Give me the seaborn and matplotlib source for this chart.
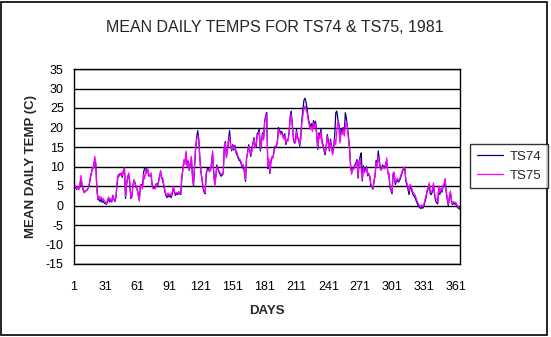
import matplotlib
matplotlib.use("Agg")
import matplotlib.pyplot as plt
import pandas as pd
import seaborn as sns
from matplotlib.patches import Rectangle

days = list(range(1, 366))

ts74 = [
    4.8, 4.4, 4.8, 4.1, 4.6, 4.2, 5.0, 7.0, 5.2, 4.2,
    3.5, 3.6, 3.9, 4.0, 4.6, 5.5, 7.2, 8.5, 9.6, 9.8,
    12.0, 10.5, 4.5, 1.5, 1.5, 1.0, 1.8, 0.8, 1.2, 0.6,
    0.5, 0.3, 1.0, 1.8, 0.9, 1.5, 0.9, 2.6, 1.7, 1.0,
    2.2, 5.5, 7.5, 7.8, 8.2, 8.0, 7.2, 9.0, 9.5, 1.8,
    5.2, 7.4, 8.0, 5.5, 1.8, 2.3, 5.3, 6.4, 5.8, 4.6,
    4.2, 2.8, 1.5, 5.0, 5.4, 4.8, 8.4, 9.7, 9.7, 8.6,
    9.0, 7.5, 7.8, 8.0, 5.4, 4.6, 4.8, 4.6, 5.6, 4.8,
    6.2, 7.5, 8.6, 7.0, 6.6, 5.0, 3.6, 2.6, 2.0, 2.7,
    2.2, 2.6, 2.0, 3.0, 4.6, 3.4, 2.6, 3.1, 2.8, 3.2,
    3.0, 2.8, 7.0, 9.4, 11.4, 11.0, 13.5, 10.4, 11.4, 9.0,
    10.6, 12.2, 7.8, 5.0, 9.6, 14.5, 17.4, 19.2, 17.0, 12.2,
    8.6, 6.5, 4.6, 3.4, 3.0, 8.0, 9.4, 9.6, 9.0, 9.0,
    10.6, 13.5, 8.6, 5.4, 7.5, 10.4, 9.6, 8.6, 8.0, 7.5,
    7.8, 8.4, 14.8, 16.4, 12.6, 14.5, 17.0, 19.2, 15.5, 14.0,
    15.6, 14.2, 15.4, 13.6, 13.0, 12.2, 11.6, 11.4, 10.6, 9.6,
    10.0, 8.4, 6.2, 12.0, 13.8, 15.6, 14.0, 12.6, 14.4, 16.0,
    17.4, 15.2, 15.0, 18.4, 18.8, 19.5, 14.0, 16.4, 18.6, 17.2,
    21.6, 23.0, 23.8, 9.5, 11.2, 8.2, 11.4, 12.2, 12.6, 14.4,
    15.2, 15.0, 16.4, 20.0, 19.4, 18.6, 19.0, 18.2, 17.4, 18.4,
    15.6, 16.6, 16.8, 18.6, 22.6, 24.2, 21.0, 17.4, 16.0, 16.4,
    19.5, 17.4, 17.0, 15.2, 17.4, 21.8, 24.5, 27.0, 27.5, 26.5,
    24.8, 22.6, 21.2, 20.0, 21.0, 19.6, 21.8, 20.6, 21.6, 18.6,
    14.4, 18.6, 17.6, 19.6, 16.6, 15.6, 14.0, 13.0, 15.2, 18.2,
    16.6, 14.0, 17.0, 15.4, 13.4, 15.0, 18.0, 23.8, 24.2, 22.0,
    20.8, 16.6, 19.6, 18.8, 20.0, 18.4, 23.8, 22.4, 20.0, 17.6,
    14.8, 10.2, 8.4, 9.8, 9.6, 10.4, 11.0, 11.8, 7.0, 11.4,
    12.6, 13.5, 6.3, 10.2, 8.8, 9.4, 10.0, 7.6, 8.0, 7.6,
    5.2, 4.8, 4.2, 6.4, 7.8, 11.6, 10.4, 14.0, 11.6, 9.6,
    9.4, 10.4, 10.0, 9.8, 10.6, 11.6, 8.4, 8.0, 4.6, 3.8,
    3.0, 8.0, 8.2, 5.4, 6.0, 6.6, 6.0, 6.4, 7.0, 8.0,
    8.8, 9.4, 9.5, 6.2, 5.4, 4.2, 2.8, 4.8, 4.4, 3.4,
    2.6, 2.4, 1.8, 1.0, 0.4, -0.3, -0.5, -0.8, -0.4, -0.7,
    -0.2, 1.0, 2.0, 3.6, 4.2, 5.4, 3.0, 2.8, 3.6, 5.4,
    2.8, 1.2, 0.7, 0.4, 4.6, 2.8, 4.0, 3.4, 4.8, 5.2,
    6.7, 3.4, 1.6, 0.0, 2.0, 3.3, 1.0, 0.2, 0.6, 0.4,
    0.4, -0.2, -0.6, -0.8, -1.0,
]

ts75 = [
    5.0, 4.2, 5.0, 4.3, 4.8, 4.0, 5.4, 7.7, 5.5, 4.0,
    3.2, 3.5, 3.8, 4.2, 4.5, 5.8, 7.5, 8.8, 10.0, 9.5,
    12.6, 11.0, 4.0, 1.7, 2.4, 1.6, 2.2, 1.4, 1.8, 1.2,
    0.9, 0.4, 1.5, 2.2, 1.3, 1.8, 1.1, 2.4, 1.5, 1.2,
    2.0, 5.8, 8.0, 7.5, 7.8, 8.4, 7.6, 8.6, 9.7, 2.4,
    5.8, 7.0, 8.4, 6.0, 2.2, 2.5, 5.0, 6.7, 5.5, 5.0,
    4.0, 2.5, 1.1, 5.4, 5.0, 4.2, 8.0, 6.8, 9.0, 8.2,
    9.5, 7.8, 7.5, 8.4, 5.0, 4.2, 4.5, 4.2, 5.4, 5.0,
    6.0, 7.0, 9.0, 7.2, 7.0, 5.4, 4.0, 3.0, 2.4, 3.2,
    2.6, 3.0, 2.4, 3.5, 5.0, 3.7, 3.0, 3.4, 3.1, 3.6,
    3.3, 3.0, 7.5, 9.0, 11.8, 10.5, 14.0, 10.0, 11.0, 9.2,
    11.0, 12.6, 7.5, 5.4, 10.0, 15.0, 17.0, 18.0, 16.5, 11.8,
    9.0, 7.0, 5.0, 4.0, 3.2, 8.4, 9.0, 9.2, 8.6, 9.2,
    11.0, 14.0, 9.0, 5.0, 7.0, 10.0, 9.2, 9.0, 8.4, 8.0,
    8.2, 8.0, 15.2, 16.0, 12.2, 14.0, 16.5, 17.8, 15.0, 14.4,
    15.2, 14.5, 15.0, 14.0, 13.5, 12.6, 12.0, 11.8, 11.0, 10.0,
    10.5, 9.0, 6.7, 12.6, 13.5, 15.2, 14.4, 13.0, 14.0, 15.6,
    17.0, 14.8, 15.5, 17.8, 18.2, 19.0, 14.4, 16.0, 18.2, 16.8,
    21.2, 22.5, 23.3, 10.0, 12.0, 8.4, 11.8, 12.6, 12.2, 14.0,
    14.8, 15.5, 16.0, 19.5, 19.0, 18.2, 18.6, 17.8, 17.0, 18.0,
    16.0, 17.0, 16.5, 18.2, 22.0, 23.3, 20.5, 17.8, 16.5, 16.0,
    19.0, 17.0, 17.5, 15.6, 17.0, 21.2, 23.0, 25.0, 25.5, 24.5,
    23.8, 22.0, 20.8, 19.5, 20.3, 19.0, 21.2, 20.0, 21.0, 18.0,
    14.8, 18.2, 17.0, 19.0, 16.0, 15.2, 14.4, 13.5, 14.8, 17.8,
    16.0, 14.4, 16.5, 14.8, 13.0, 14.4, 17.0, 15.6, 19.5, 21.6,
    20.3, 16.0, 19.0, 18.2, 19.5, 17.8, 20.3, 21.6, 19.5, 17.0,
    14.4, 9.7, 8.0, 9.5, 9.2, 10.0, 10.5, 11.4, 7.5, 11.0,
    12.0, 9.0, 6.7, 9.7, 8.4, 9.0, 9.7, 8.0, 8.4, 7.2,
    5.6, 5.0, 4.5, 6.0, 7.5, 11.0, 10.0, 12.6, 11.0, 9.2,
    9.0, 10.0, 9.6, 9.4, 10.2, 12.2, 8.0, 8.4, 5.0, 4.2,
    3.4, 8.4, 8.6, 5.8, 6.5, 7.0, 6.3, 6.8, 7.5, 8.4,
    9.2, 9.7, 9.9, 6.7, 5.8, 4.8, 3.7, 5.4, 5.0, 4.0,
    3.2, 3.0, 2.5, 1.6, 1.0, 0.3, 0.0, -0.3, 0.2, -0.3,
    0.3, 1.5, 2.5, 4.0, 4.6, 5.8, 3.5, 3.3, 4.0, 5.8,
    3.2, 1.6, 1.8, 0.8, 5.0, 3.3, 4.5, 3.8, 5.2, 5.6,
    6.9, 3.8, 2.0, 0.3, 2.4, 3.7, 1.4, 0.5, 1.0, 0.8,
    0.8, 0.2, -0.3, -0.5, -0.6,
]

series_names = ["TS74", "TS75"]
series_colors = ["#000080", "#FF00FF"]
x_ticks = list(range(1, 362, 30))
y_ticks = list(range(-15, 36, 5))

title_text = "MEAN DAILY TEMPS FOR TS74 & TS75, 1981"
x_label = "DAYS"
y_label = "MEAN DAILY TEMP (C)"

sns.set_style("white")
plt.rcParams["font.family"] = ["Liberation Sans", "DejaVu Sans"]

df = pd.DataFrame({
    "Day": days + days,
    "Temp": ts74 + ts75,
    "Series": [series_names[0]] * len(ts74) + [series_names[1]] * len(ts75),
})

W, H = 551, 337
fig = plt.figure(figsize=(W / 100, H / 100), dpi=100)
fig.patch.set_facecolor("white")
fig.patches.append(Rectangle((1 / W, 1 - 335 / H), 546 / W, 333 / H,
                             transform=fig.transFigure, fill=False,
                             edgecolor="black", linewidth=1.2))

ax = fig.add_axes([73.5 / W, 1 - 264 / H, 386.5 / W, 195 / H])
ax.set_facecolor("white")
sns.lineplot(data=df, x="Day", y="Temp", hue="Series", hue_order=series_names,
             palette=dict(zip(series_names, series_colors)), estimator=None,
             linewidth=0.9, ax=ax, legend=False)

ax.set_xlim(1, 365)
ax.set_ylim(-15, 35)
ax.set_xticks(x_ticks)
ax.set_xticklabels([str(t) for t in x_ticks])
ax.set_yticks(y_ticks)
ax.set_yticklabels([str(t) for t in y_ticks])
ax.yaxis.grid(True, color="black", linewidth=1.0)
ax.xaxis.grid(False)
ax.set_axisbelow(True)
for s in ax.spines.values():
    s.set_color("black")
    s.set_linewidth(1.0)
ax.tick_params(axis="both", direction="out", length=4, width=1, color="black",
               labelsize=9, labelcolor="black", pad=3)
ax.tick_params(axis="x", pad=8)
ax.tick_params(axis="y", pad=3)

ax.set_xlabel(x_label, fontsize=9.5, fontweight="bold")
ax.set_ylabel(y_label, fontsize=9.5, fontweight="bold")
ax.xaxis.set_label_coords(0.5, (264 - 305) / 195)
ax.yaxis.set_label_coords((37 - 73.5) / 386.5, 0.5)

fig.text(275 / W, 1 - 28 / H, title_text, ha="center", va="center", fontsize=11.5)

handles = ax.get_lines()[:2]
leg = fig.legend(handles, series_names, loc="upper left",
                 bbox_to_anchor=(470 / W, 1 - 144 / H), frameon=True,
                 fancybox=False, edgecolor="black", fontsize=9.5,
                 handlelength=2.0, handletextpad=0.5, borderpad=0.5,
                 labelspacing=0.5, borderaxespad=0)
leg.get_frame().set_linewidth(1.0)

fig.savefig("out.png", dpi=100, facecolor="white")
